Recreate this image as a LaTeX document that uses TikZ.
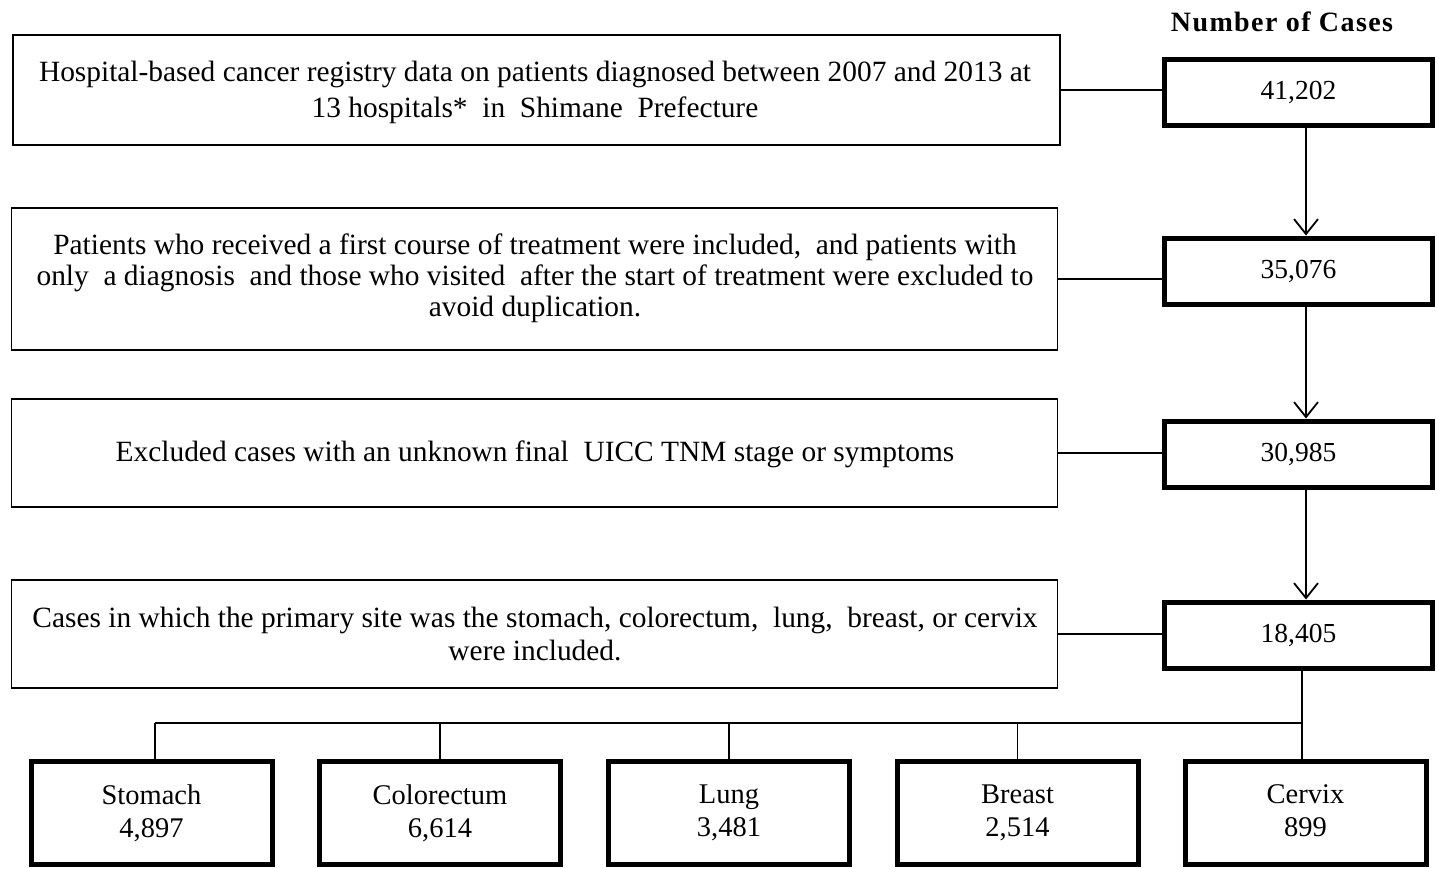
\documentclass[tikz,border=0pt]{standalone}
\usepackage{fontspec}
\setmainfont{Liberation Serif}
\usetikzlibrary{arrows.meta}
\begin{document}
\begin{tikzpicture}[x=1pt,y=-1pt,
  leftbox/.style={draw,line width=1.8pt,inner sep=0pt},
  numbox/.style={draw,line width=5pt,inner sep=0pt,minimum width=268pt,minimum height=66pt,font=\fontsize{27.5}{33}\selectfont},
  sitebox/.style={draw,line width=5pt,inner sep=0pt,minimum width=241pt,minimum height=103pt,align=center,font=\fontsize{28.5}{33}\selectfont},
  txt/.style={align=center,inner sep=0pt},
  conn/.style={line width=1.8pt},
  arr/.style={line width=1.8pt,-{Straight Barb[length=15pt,width=24pt,line width=1.8pt]}}]
\useasboundingbox (0,0) rectangle (1437,868);

% title
\node[font=\bfseries\fontsize{28}{33}\selectfont\addfontfeature{LetterSpace=5}] (title) at (1282,22) {Number of Cases};

% left description boxes
\node[leftbox,minimum width=1047pt,minimum height=110pt] (b1) at (536.5,90) {};
\node[leftbox,minimum width=1046pt,minimum height=142pt] (b2) at (534.5,279) {};
\node[leftbox,minimum width=1046pt,minimum height=108pt] (b3) at (534.5,453) {};
\node[leftbox,minimum width=1046pt,minimum height=108pt] (b4) at (534.5,634) {};

\node[txt,font=\fontsize{29.4}{36}\selectfont] (t1) at (535,92)
  {Hospital-based cancer registry data on patients diagnosed between 2007 and 2013 at\\13 hospitals*\ \ in\ \ Shimane\ \ Prefecture};
\node[txt,font=\fontsize{29.4}{31}\selectfont] (t2) at (535,278)
  {Patients who received a first course of treatment were included,\ \ and patients with\\only\ \ a diagnosis\ \ and those who visited\ \ after the start of treatment were excluded to\\avoid duplication.};
\node[txt,font=\fontsize{29.4}{33}\selectfont] (t3) at (535,454)
  {Excluded cases with an unknown final\ \ UICC TNM stage or symptoms};
\node[txt,font=\fontsize{29.4}{33}\selectfont] (t4) at (535,634)
  {Cases in which the primary site was the stomach, colorectum,\ \ lung,\ \ breast, or cervix\\were included.};

% number boxes
\node[numbox] (n1) at (1298.5,92.5) {41,202};
\node[numbox] (n2) at (1298.5,271) {35,076};
\node[numbox] (n3) at (1298.5,454) {30,985};
\node[numbox] (n4) at (1298.5,635) {18,405};

% horizontal links
\draw[conn] (b1.east) -- (b1.east -| n1.west);
\draw[conn] (b2.east) -- (b2.east -| n2.west);
\draw[conn] (b3.east) -- (b3.east -| n3.west);
\draw[conn] (b4.east) -- (b4.east -| n4.west);

% vertical arrows
\draw[arr] ([xshift=7.5pt]n1.south) -- ([xshift=7.5pt]n2.north);
\draw[arr] ([xshift=7.5pt]n2.south) -- ([xshift=7.5pt]n3.north);
\draw[arr] ([xshift=7.5pt]n3.south) -- ([xshift=7.5pt]n4.north);

% site boxes
\node[sitebox] (s1) at (151.5,813) {Stomach\\4,897};
\node[sitebox] (s2) at (440,813) {Colorectum\\6,614};
\node[sitebox] (s3) at (729,813) {Lung\\3,481};
\node[sitebox] (s4) at (1017.5,813) {Breast\\2,514};
\node[sitebox] (s5) at (1305.5,813) {Cervix\\899\vphantom{,}};

% bus
\coordinate (j) at (1302,723);
\coordinate (busL) at (155,723);
\draw[conn] ([xshift=3.5pt]n4.south) -- ([xshift=-3.5pt]s5.north);
\draw[conn] (j) -- (busL);
\draw[conn] (busL) -- (busL |- s1.north);
\draw[conn] (s2.north |- j) -- (s2.north);
\draw[conn] (s3.north |- j) -- (s3.north);
\draw[conn] (s4.north |- j) -- (s4.north);
\end{tikzpicture}
\end{document}
